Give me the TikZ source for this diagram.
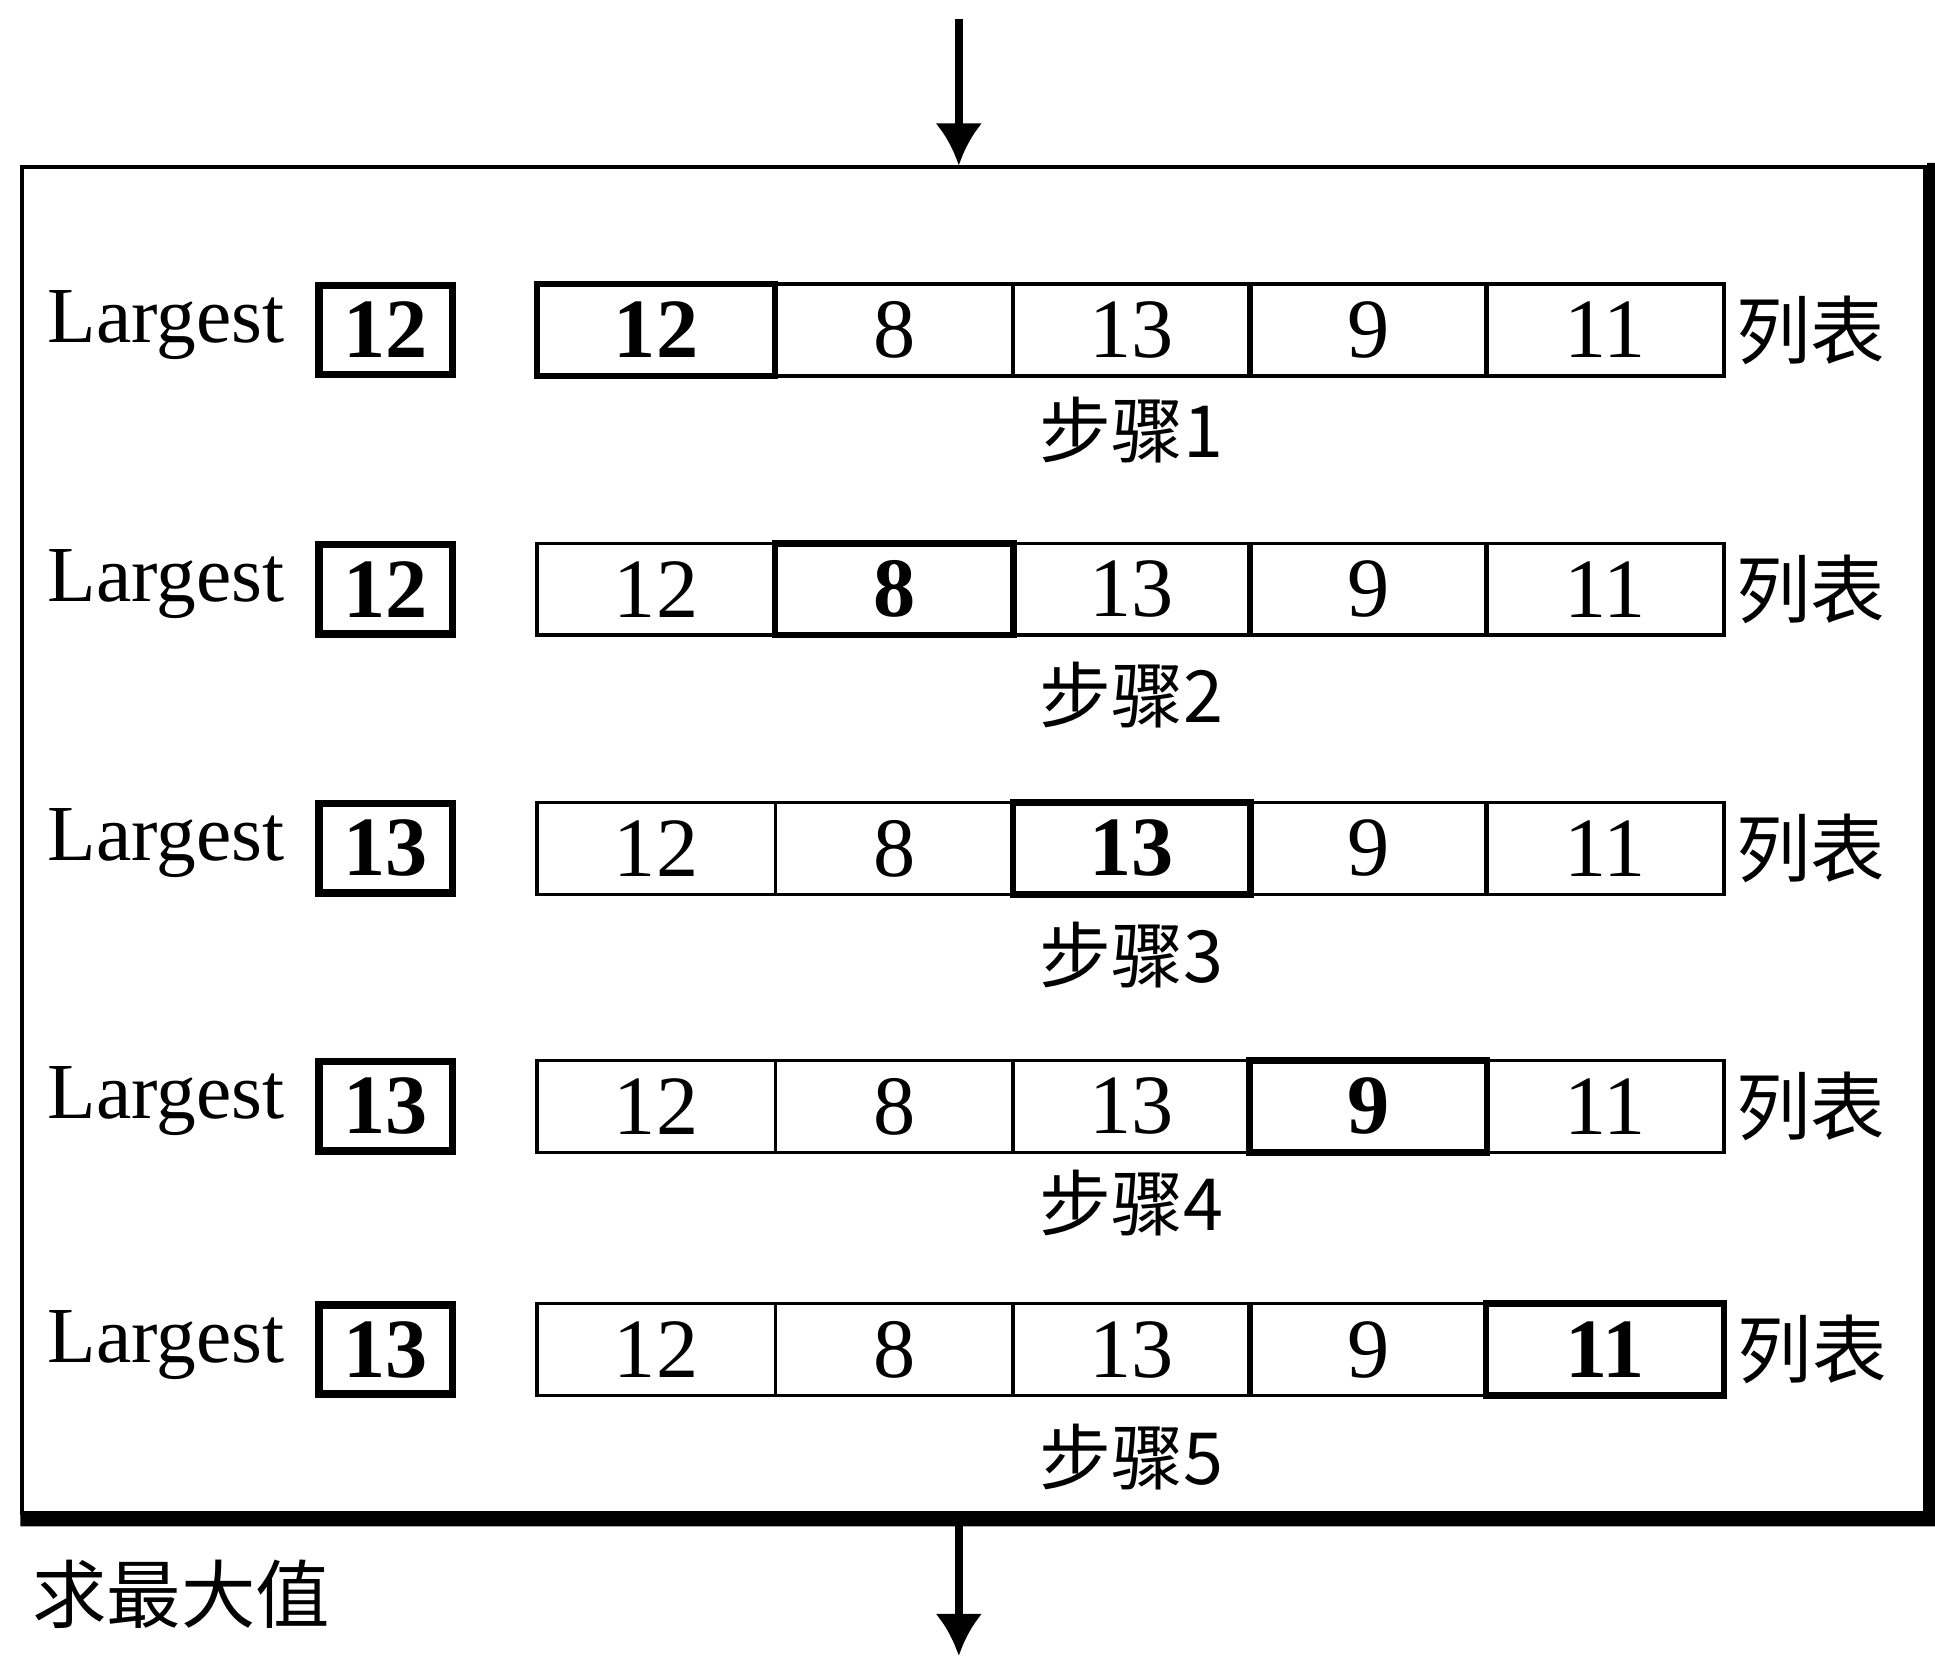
\documentclass[tikz,border=0pt]{standalone}
\usepackage{fontspec}
\setmainfont{Liberation Serif}
\newfontfamily\cjk{Noto Sans CJK SC}
\usetikzlibrary{arrows.meta}
\begin{document}
\begin{tikzpicture}[x=0.5pt,y=-0.5pt,
  cell/.style={draw,line width=1.4pt,minimum width=96pt,minimum height=37pt,inner sep=0pt,font=\fontsize{34}{36}\selectfont},
  curcell/.style={cell,line width=2.6pt},
  lgbox/.style={draw,line width=3pt,minimum width=54pt,minimum height=36pt,inner sep=0pt,font=\bfseries\fontsize{34}{36}\selectfont},
  lglabel/.style={inner sep=0pt,font=\fontsize{32}{36}\selectfont},
  cjklabel/.style={inner sep=0pt,font=\cjk\fontsize{30}{34}\selectfont},
  steplabel/.style={inner sep=0pt,font=\cjk\fontsize{29}{34}\selectfont},
  flow/.style={line width=3pt,-{Latex[length=17pt,width=19pt]}}]
\useasboundingbox (0,0) rectangle (1560,1338);
% frame
\node[draw,line width=1.6pt,minimum width=767pt,minimum height=542.5pt,inner sep=0pt] (frame) at (785,677.5) {};
\fill ([yshift=1pt]frame.north east) -- ([xshift=3.5pt,yshift=1pt]frame.north east)
  -- ([xshift=3.5pt,yshift=-4.5pt]frame.south east) -- ([yshift=-4.5pt]frame.south west)
  -- ([yshift=0.5pt]frame.south west) -- ([yshift=0.5pt]frame.south east) -- cycle;
% arrows
\coordinate (tin) at (773,15);
\coordinate (tout) at (773,1335);
\draw[flow] (tin) -- (tin |- frame.north);
\draw[flow] ([yshift=-4pt]tout |- frame.south) -- (tout);
\node[cjklabel] (title) at (146,1285) {求最大值};
% rows
\foreach \r/\y/\sy/\lg/\cur in {1/266/347/12/1, 2/475/560/12/2, 3/684/770/13/3, 4/892/970/13/4, 5/1088/1175/13/5}{
  \node[lglabel] (lg\r) at (134,\y-4) {Largest};
  \node[lgbox] (lb\r) at (311,\y) {\lg};
  \foreach \c/\x/\v in {1/529/12, 2/721/8, 3/912.5/13, 4/1103/9, 5/1294/11}{
    \ifnum\c=\cur
      \node[curcell,font=\bfseries\fontsize{34}{36}\selectfont] (c\r\c) at (\x,\y) {\v};
    \else
      \node[cell] (c\r\c) at (\x,\y) {\v};
    \fi
  }
  \node[cjklabel,anchor=west] (lt\r) at ([xshift=4pt]c\r5.east) {列表};
  \node[steplabel] (st\r) at (912,\sy) {步骤\r};
}
\end{tikzpicture}
\end{document}
